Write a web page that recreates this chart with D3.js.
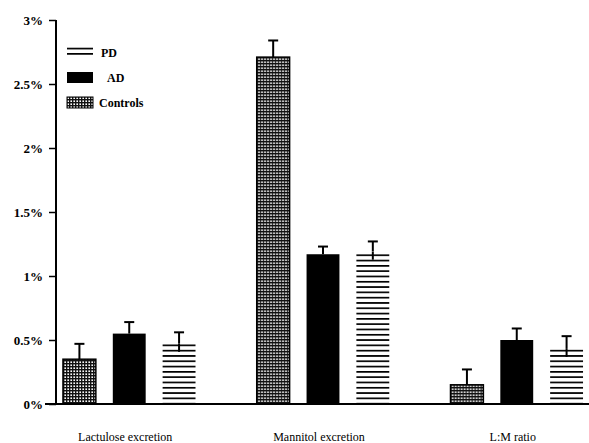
<!DOCTYPE html>
<html>
<head>
<meta charset="utf-8">
<script src="https://cdn.jsdelivr.net/npm/d3@7"></script>
<style>
  body { margin: 0; background: white; }
  text { font-family: "Liberation Serif", "DejaVu Serif", serif; }
</style>
</head>
<body>
<svg id="mainSvg" width="589" height="443"></svg>
<script>
// data (percent)
var categories = ["Lactulose excretion", "Mannitol excretion", "L:M ratio"];
var series = ["Grid", "Black", "Stripes"];          // bar order inside each group
var meanValues = [
    [0.35, 0.55, 0.47],
    [2.71, 1.17, 1.19],
    [0.15, 0.50, 0.43]
];
var errorTops = [
    [0.47, 0.64, 0.56],
    [2.84, 1.23, 1.27],
    [0.27, 0.59, 0.53]
];
var yTicks = [0, 0.5, 1, 1.5, 2, 2.5, 3];
var yTickLabels = ["0%", "0.5%", "1%", "1.5%", "2%", "2.5%", "3%"];
var legendLabels = ["PD", "AD", "Controls"];
var legendFills = ["Stripes", "Black", "Grid"];

var fillOf = {Grid: "url(#gridPat)", Black: "black", Stripes: "url(#stripePat)"};

function drawChart()
{
    const svg = d3.select("#mainSvg");
    const defs = svg.append("defs");

    // dense grid pattern (scanned cross-hatch, quite dark)
    const grid = defs.append("pattern").attr("id", "gridPat")
        .attr("patternUnits", "userSpaceOnUse").attr("width", 3).attr("height", 3);
    grid.append("rect").attr("width", 3).attr("height", 3).attr("fill", "white");
    grid.append("rect").attr("width", 3).attr("height", 1.4).attr("fill", "#111");
    grid.append("rect").attr("width", 1.4).attr("height", 3).attr("fill", "#111");

    // horizontal stripe pattern
    const stripe = defs.append("pattern").attr("id", "stripePat")
        .attr("patternUnits", "userSpaceOnUse").attr("width", 6).attr("height", 5.3);
    stripe.append("rect").attr("width", 6).attr("height", 5.3).attr("fill", "white");
    stripe.append("rect").attr("y", 0).attr("width", 6).attr("height", 1.7).attr("fill", "black");

    const yScale = d3.scaleLinear().domain([0, 3]).range([404, 20]);
    const xScale = d3.scaleBand().domain(categories).range([56, 590])
        .paddingInner(0.316).paddingOuter(0.036);
    const xInner = d3.scaleBand().domain(series).range([0, xScale.bandwidth()])
        .paddingInner(0.34).paddingOuter(0);

    // y axis
    const yAxis = d3.axisLeft(yScale).tickValues(yTicks)
        .tickFormat((d, i) => yTickLabels[i]).tickSize(7).tickPadding(6);
    const yAxisGroup = svg.append("g").attr("transform", "translate(56,0)").call(yAxis);
    yAxisGroup.select(".domain").attr("stroke", "black").attr("stroke-width", 2)
        .attr("d", `M0,${yScale(3)}V${yScale(0)}`);
    yAxisGroup.selectAll(".tick line").attr("stroke", "black").attr("stroke-width", 1.5);
    yAxisGroup.selectAll(".tick text")
        .attr("font-family", "Liberation Serif")
        .attr("font-size", 13).attr("font-weight", "bold").attr("fill", "black");

    // bars
    categories.forEach(function (cat, ci) {
        const g = svg.append("g").attr("transform", `translate(${xScale(cat)},0)`);
        series.forEach(function (s, si) {
            const x = xInner(s);
            const w = xInner.bandwidth();
            const v = meanValues[ci][si];
            const e = errorTops[ci][si];
            const cx = x + w / 2;
            // error bar stem + cap
            g.append("line").attr("x1", cx).attr("x2", cx)
                .attr("y1", yScale(e)).attr("y2", yScale(v))
                .attr("stroke", "black").attr("stroke-width", 2);
            g.append("line").attr("x1", cx - 5).attr("x2", cx + 5)
                .attr("y1", yScale(e)).attr("y2", yScale(e))
                .attr("stroke", "black").attr("stroke-width", 2);
            const r = g.append("rect")
                .attr("x", x).attr("width", w)
                .attr("y", yScale(v)).attr("height", yScale(0) - yScale(v))
                .attr("fill", fillOf[s]);
            if (s === "Grid") r.attr("stroke", "black").attr("stroke-width", 1.5);
            if (s === "Stripes") {
                // stem shows through the stripes a little below the top
                g.append("line").attr("x1", cx).attr("x2", cx)
                    .attr("y1", yScale(v)).attr("y2", yScale(v) + 8)
                    .attr("stroke", "black").attr("stroke-width", 2);
            }
        });
    });

    // x baseline
    svg.append("line").attr("x1", 45).attr("x2", 589)
        .attr("y1", yScale(0)).attr("y2", yScale(0))
        .attr("stroke", "black").attr("stroke-width", 2);

    // category labels
    svg.selectAll(".catLabel").data(categories).join("text")
        .attr("class", "catLabel")
        .attr("x", d => xScale(d) + xScale.bandwidth() / 2 - 4)
        .attr("y", 441)
        .attr("text-anchor", "middle")
        .attr("font-size", 12).attr("fill", "black")
        .text(d => d);

    // legend
    const legend = svg.append("g");
    legendLabels.forEach(function (lab, i) {
        const y0 = 47 + i * 25;
        legend.append("rect").attr("x", 67).attr("y", y0)
            .attr("width", 26).attr("height", 11)
            .attr("fill", fillOf[legendFills[i]])
            .attr("stroke", legendFills[i] === "Grid" ? "black" : "none");
        legend.append("text").attr("x", i === 2 ? 99 : (i === 1 ? 107 : 101))
            .attr("y", y0 + 10)
            .attr("font-size", 12).attr("font-weight", "bold").attr("fill", "black")
            .text(lab);
    });
}

window.addEventListener("load", drawChart);
</script>
</body>
</html>
